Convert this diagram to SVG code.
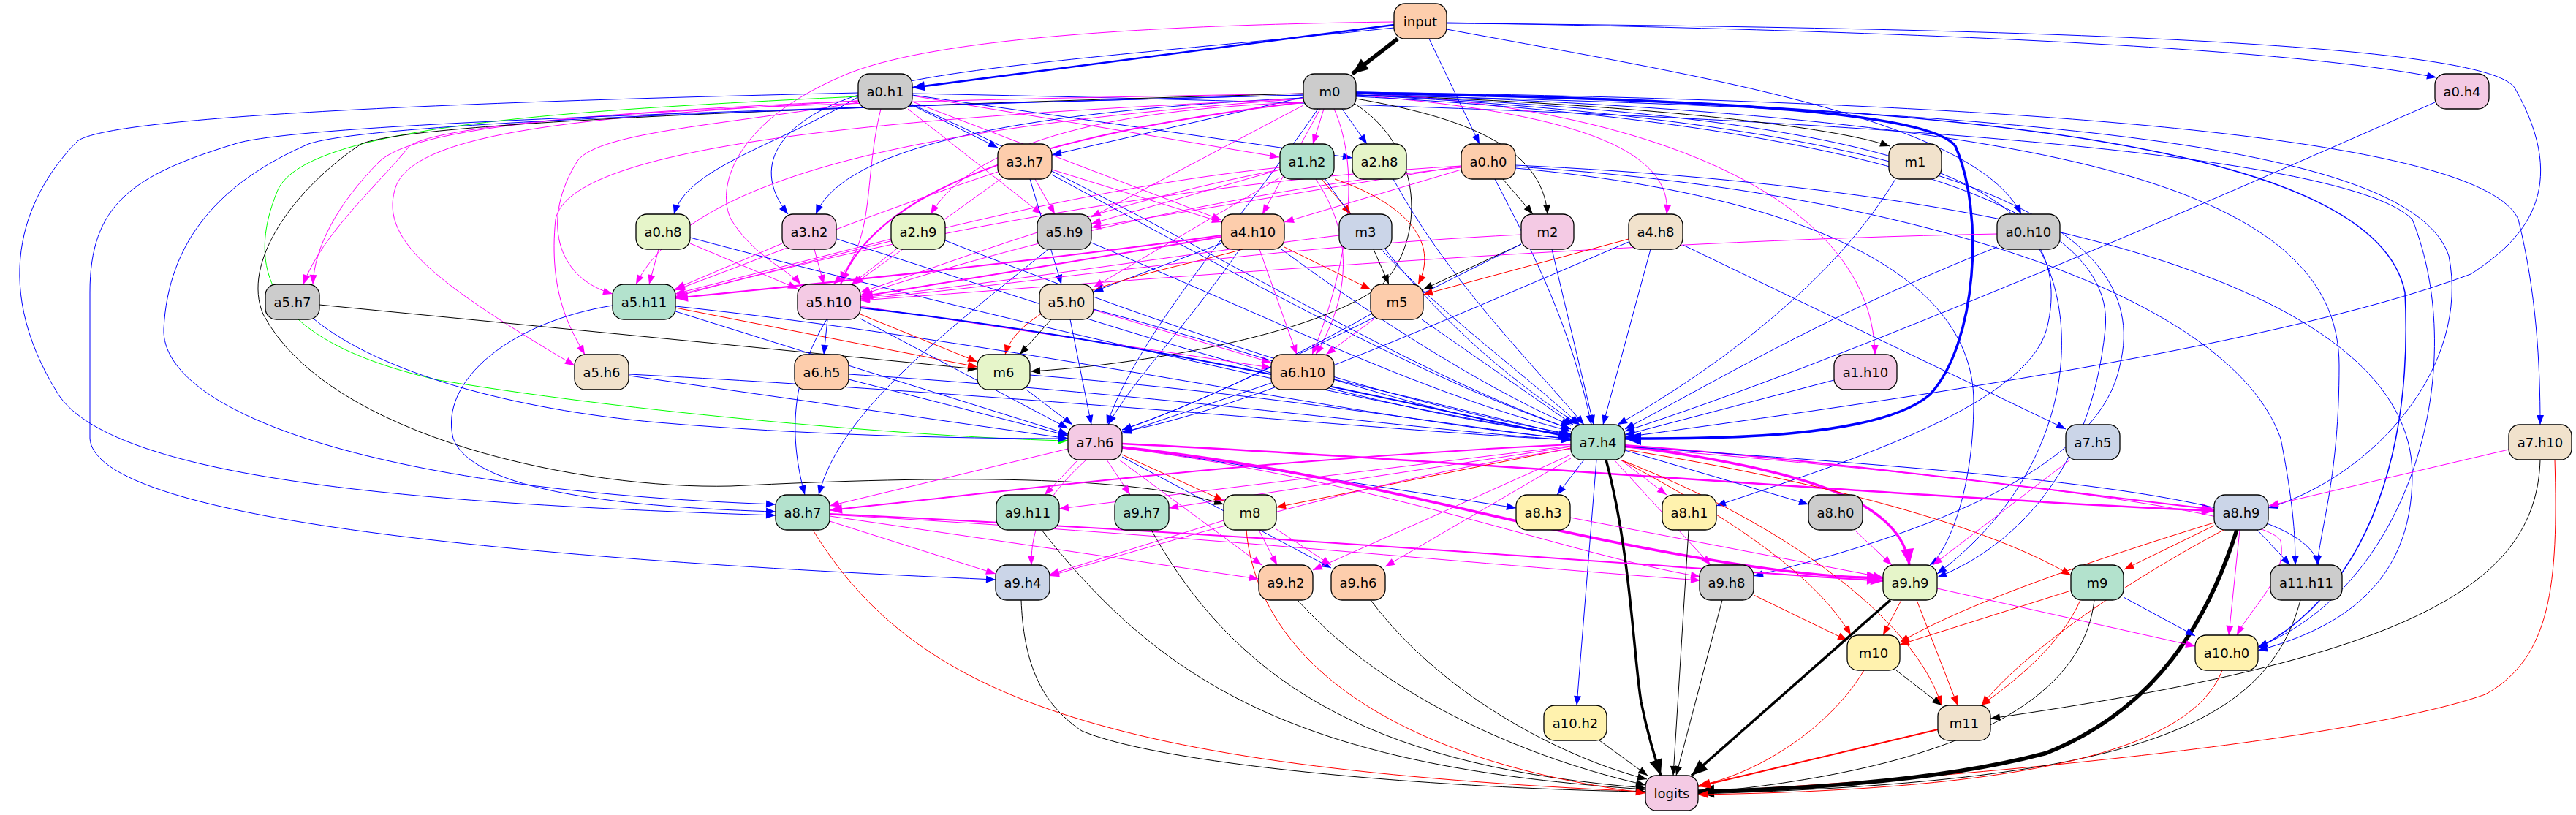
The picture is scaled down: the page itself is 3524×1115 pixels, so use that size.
<svg xmlns="http://www.w3.org/2000/svg" width="3524" height="1115" viewBox="0 0 3524 1115">
<style>
.e{fill:none;stroke-width:1}
.b{stroke:#0000ff;marker-end:url(#mb)}
.m{stroke:#ff00ff;marker-end:url(#mm)}
.r{stroke:#ff0000;marker-end:url(#mr)}
.k{stroke:#000000;marker-end:url(#mk)}
.g{stroke:#00ff00;marker-end:url(#mg)}
.w15{stroke-width:1.5}
.w2{stroke-width:2}
.w25{stroke-width:2.5}
.w3{stroke-width:3.5}
.w5{stroke-width:5.5}
.bM{marker-end:url(#mbM)}
.mM{marker-end:url(#mmM)}
.rM{marker-end:url(#mrM)}
.bL{marker-end:url(#mbL)}
.mL{marker-end:url(#mmL)}
.kL{marker-end:url(#mkL)}
.n rect{stroke:#000;stroke-width:1.3}
.n text{font-family:"DejaVu Sans","Liberation Sans",sans-serif;font-size:18px;text-anchor:middle;fill:#000}
.pe{fill:#fdcdac}.gy{fill:#cccccc}.pk{fill:#f4cae4}.mi{fill:#b3e2cd}.lg{fill:#e6f5c9}.be{fill:#f1e2cc}.lb{fill:#cbd5e8}.ye{fill:#fff2ae}
</style>
<defs>
<marker id="mb" markerUnits="userSpaceOnUse" markerWidth="14" markerHeight="11" refX="13" refY="5" orient="auto" overflow="visible"><path d="M0,0 L13,5 L0,10 z" fill="#0000ff"/></marker>
<marker id="mm" markerUnits="userSpaceOnUse" markerWidth="14" markerHeight="11" refX="13" refY="5" orient="auto" overflow="visible"><path d="M0,0 L13,5 L0,10 z" fill="#ff00ff"/></marker>
<marker id="mr" markerUnits="userSpaceOnUse" markerWidth="14" markerHeight="11" refX="13" refY="5" orient="auto" overflow="visible"><path d="M0,0 L13,5 L0,10 z" fill="#ff0000"/></marker>
<marker id="mk" markerUnits="userSpaceOnUse" markerWidth="14" markerHeight="11" refX="13" refY="5" orient="auto" overflow="visible"><path d="M0,0 L13,5 L0,10 z" fill="#000000"/></marker>
<marker id="mg" markerUnits="userSpaceOnUse" markerWidth="14" markerHeight="11" refX="13" refY="5" orient="auto" overflow="visible"><path d="M0,0 L13,5 L0,10 z" fill="#00ff00"/></marker>
<marker id="mbM" markerUnits="userSpaceOnUse" markerWidth="18" markerHeight="14" refX="17" refY="6.5" orient="auto" overflow="visible"><path d="M0,0 L17,6.5 L0,13 z" fill="#0000ff"/></marker>
<marker id="mmM" markerUnits="userSpaceOnUse" markerWidth="18" markerHeight="14" refX="17" refY="6.5" orient="auto" overflow="visible"><path d="M0,0 L17,6.5 L0,13 z" fill="#ff00ff"/></marker>
<marker id="mrM" markerUnits="userSpaceOnUse" markerWidth="18" markerHeight="14" refX="17" refY="6.5" orient="auto" overflow="visible"><path d="M0,0 L17,6.5 L0,13 z" fill="#ff0000"/></marker>
<marker id="mbL" markerUnits="userSpaceOnUse" markerWidth="23" markerHeight="19" refX="22" refY="9" orient="auto" overflow="visible"><path d="M0,0 L22,9 L0,18 z" fill="#0000ff"/></marker>
<marker id="mmL" markerUnits="userSpaceOnUse" markerWidth="23" markerHeight="19" refX="22" refY="9" orient="auto" overflow="visible"><path d="M0,0 L22,9 L0,18 z" fill="#ff00ff"/></marker>
<marker id="mkL" markerUnits="userSpaceOnUse" markerWidth="23" markerHeight="19" refX="22" refY="9" orient="auto" overflow="visible"><path d="M0,0 L22,9 L0,18 z" fill="#000000"/></marker>
</defs>
<rect x="0" y="0" width="3524" height="1115" fill="#ffffff"/>
<g id="edges">
<!-- input -->
<path class="e k w5 kL" d="M1912,53 L1850,101"/>
<path class="e b w25 bM" d="M1907,34 L1248,120"/>
<path class="e b" d="M1907,38 C1550,75 1230,95 1170,135 C1060,200 940,230 922,293"/>
<path class="e b" d="M1955,53 L2024,197"/>
<path class="e b" d="M1979,40 C2300,100 2700,160 2765,293"/>
<path class="e b" d="M1979,31 C2500,40 3100,60 3333,106"/>
<path class="e b" d="M1979,32 C2800,38 3400,60 3440,120 C3520,260 3450,330 3380,375 C3100,480 2500,560 2223,598"/>
<path class="e m" d="M1907,30 C1500,35 1250,60 1150,105 C1000,170 980,260 1000,300 C1030,350 1080,370 1095,389"/>
<!-- a0.h1 -->
<path class="e m" d="M1248,131 L1750,215"/>
<path class="e b" d="M1248,144 L1365,202"/>
<path class="e b" d="M1248,130 L1850,216"/>
<path class="e b" d="M1174,130 C1080,160 1020,220 1078,293"/>
<path class="e m" d="M1242,149 L1425,293"/>
<path class="e m" d="M1248,139 L1671,301"/>
<path class="e m" d="M1174,138 C900,150 600,170 560,200 C520,250 440,320 415,389"/>
<path class="e m" d="M1174,140 C1000,170 820,180 790,220 C740,300 760,380 838,402"/>
<path class="e m" d="M1205,149 C1180,250 1200,330 1140,389"/>
<path class="e m" d="M1174,138 C800,160 560,180 540,260 C520,330 600,390 786,500"/>
<path class="e g" d="M1174,132 C800,150 420,170 380,260 C330,380 380,470 600,520 C900,570 1300,600 1461,603"/>
<path class="e b" d="M1174,127 C600,140 150,160 106,193 C40,260 -20,380 80,540 C160,660 600,690 1061,705"/>
<path class="e b" d="M1248,143 C1600,300 1900,500 2149,587"/>
<path class="e b" d="M1248,128 C2400,150 3200,200 3300,300 C3380,500 3300,800 3089,885"/>
<!-- m0 -->
<path class="e m" d="M1811,149 L1796,197"/>
<path class="e b" d="M1836,149 L1870,197"/>
<path class="e k" d="M1855,130 C2200,140 2500,170 2585,200"/>
<path class="e k" d="M1855,135 C2000,160 2110,200 2117,293"/>
<path class="e b" d="M1783,133 L1439,212"/>
<path class="e b" d="M1783,134 C1450,150 1160,190 1116,293"/>
<path class="e m" d="M1783,140 C1500,150 1330,200 1273,293"/>
<path class="e m" d="M1783,144 L1493,297"/>
<path class="e m" d="M1806,149 L1727,293"/>
<path class="e m" d="M1855,130 C2100,150 2290,190 2280,293"/>
<path class="e m" d="M1855,128 C2200,140 2560,250 2565,485"/>
<path class="e m" d="M1783,128 C1100,140 600,150 520,220 C460,280 430,340 428,389"/>
<path class="e m" d="M1783,135 C1300,170 950,230 870,389"/>
<path class="e m w2 mM" d="M1783,140 C1450,180 1200,250 1150,389"/>
<path class="e m" d="M1825,149 C1870,250 1830,400 1795,485"/>
<path class="e k" d="M1850,140 C1950,200 1950,330 1890,390 C1800,460 1550,500 1410,508"/>
<path class="e k" d="M1783,128 C1000,150 560,170 494,197 C400,260 330,360 360,430 C450,600 800,670 1000,665 C1300,650 1550,650 1674,690"/>
<path class="e b w3 bL" d="M1855,127 C2300,135 2640,150 2675,200 C2715,290 2705,470 2640,540 C2570,600 2350,600 2223,600"/>
<path class="e b" d="M1803,149 C1700,300 1560,450 1514,581"/>
<path class="e b" d="M1783,130 C1000,150 500,170 422,197 C300,250 230,330 224,450 C220,560 500,670 1061,690"/>
<path class="e b" d="M1783,130 C1000,150 400,170 321,197 C180,240 123,280 123,400 L123,600 C130,700 600,760 1362,793"/>
<path class="e b" d="M1855,130 C2800,150 3300,200 3350,350 C3380,500 3250,650 3103,695"/>
<path class="e b" d="M1855,132 C2400,160 2900,250 2880,450 C2860,650 2750,750 2650,790"/>
<path class="e b w15" d="M1855,128 C2700,140 3250,200 3290,400 C3300,600 3250,800 3089,887"/>
<path class="e b" d="M1855,126 C2900,140 3400,200 3445,300 C3470,400 3475,500 3475,581"/>
<path class="e b" d="M1855,128 C2800,160 3200,250 3200,500 C3200,650 3175,720 3170,773"/>
<path class="e b" d="M1855,130 C2600,160 2850,250 2800,450 C2770,560 2500,640 2348,692"/>
<path class="e b" d="M1855,130 C2650,170 2950,300 2900,500 C2870,650 2600,740 2399,788"/>
<path class="e m" d="M1783,135 C1200,160 780,200 760,300 C750,400 780,450 800,485"/>
<!-- a0.h0 -->
<path class="e k" d="M2056,245 L2097,293"/>
<path class="e m" d="M1999,232 L1757,304"/>
<path class="e m" d="M1999,229 C1700,260 1400,330 1177,404"/>
<path class="e m" d="M1999,227 C1600,250 1200,330 924,406"/>
<path class="e m" d="M1999,227 L1493,311"/>
<path class="e b" d="M2045,245 C2100,350 2150,450 2177,581"/>
<path class="e b" d="M2073,230 C2400,260 2700,350 2700,550 C2700,680 2660,760 2640,773"/>
<path class="e b" d="M2073,228 C2600,260 3050,400 3120,600 C3140,700 3140,750 3140,773"/>
<path class="e b" d="M2073,226 C2800,260 3300,400 3300,650 C3300,800 3200,860 3089,890"/>
<!-- a0.h8 -->
<path class="e m" d="M901,341 L888,389"/>
<path class="e m" d="M944,333 L1091,395"/>
<path class="e b" d="M944,325 C1300,420 1800,540 2149,597"/>
<!-- a0.h10 -->
<path class="e m" d="M2732,320 C2200,330 1600,380 1177,411"/>
<path class="e b" d="M2732,338 C2500,430 2350,520 2223,587"/>
<path class="e b" d="M2790,341 C2850,450 2830,650 2650,785"/>
<!-- a0.h4 -->
<path class="e b" d="M3331,140 C2900,330 2500,500 2223,590"/>
<!-- a1.h2 -->
<path class="e r" d="M1808,245 L1848,293"/>
<path class="e r" d="M1826,245 C1900,270 1975,320 1940,389"/>
<path class="e m" d="M1751,232 L1493,306"/>
<path class="e m" d="M1751,232 C1500,280 1300,360 1177,400"/>
<path class="e m" d="M1751,229 C1450,260 1150,350 924,404"/>
<path class="e m" d="M1751,243 L1496,393"/>
<path class="e b" d="M1813,245 C1900,380 2050,480 2161,581"/>
<path class="e m" d="M1800,245 C1850,320 1850,400 1800,485"/>
<!-- a2.h8 -->
<path class="e b" d="M1906,245 C1980,380 2080,480 2167,581"/>
<!-- a2.h9 -->
<path class="e m" d="M1226,341 L1165,389"/>
<path class="e m" d="M1219,327 L924,402"/>
<path class="e b" d="M1293,329 C1600,450 1900,550 2149,594"/>
<!-- a3.h7 -->
<path class="e m" d="M1416,245 L1443,293"/>
<path class="e m" d="M1439,232 L1671,304"/>
<path class="e b" d="M1409,245 L1452,389"/>
<path class="e m" d="M1365,235 C1200,290 1050,350 924,397"/>
<path class="e m" d="M1369,245 L1168,389"/>
<path class="e b" d="M1439,239 C1700,380 1950,520 2149,587"/>
<!-- a3.h2 -->
<path class="e m" d="M1114,341 L1127,389"/>
<path class="e m" d="M1070,333 L924,395"/>
<path class="e b" d="M1145,327 C1500,440 1850,560 2149,595"/>
<!-- a5.h9 -->
<path class="e b" d="M1493,332 C1750,440 1950,540 2149,590"/>
<path class="e b" d="M1434,341 C1300,450 1150,560 1120,677"/>
<!-- a4.h10 -->
<path class="e b" d="M1671,333 L1496,399"/>
<path class="e r" d="M1757,338 L1875,396"/>
<path class="e r" d="M1700,341 C1600,370 1400,400 1375,485"/>
<path class="e m w2 mM" d="M1671,324 L1177,406"/>
<path class="e m w2 mM" d="M1671,322 C1400,360 1100,390 924,408"/>
<path class="e m" d="M1723,341 L1774,485"/>
<path class="e b" d="M1753,341 C1900,450 2050,540 2149,582"/>
<path class="e b" d="M1696,341 C1620,450 1550,520 1516,581"/>
<!-- m3 -->
<path class="e k" d="M1879,341 L1900,389"/>
<path class="e b" d="M1895,341 C1980,450 2080,530 2160,581"/>
<path class="e m" d="M1832,322 C1600,350 1350,390 1177,407"/>
<!-- m2 -->
<path class="e k" d="M2081,334 L1947,396"/>
<path class="e b" d="M2123,341 L2180,581"/>
<path class="e b" d="M2081,334 C1850,450 1650,550 1535,588"/>
<path class="e m" d="M2081,321 C1700,340 1400,390 1177,409"/>
<!-- a4.h8 -->
<path class="e r" d="M2228,327 L1947,403"/>
<path class="e b" d="M2258,341 L2193,581"/>
<path class="e b" d="M2228,331 C1950,450 1700,560 1535,591"/>
<path class="e b" d="M2302,335 L2826,587"/>
<!-- m1, a1.h10 -->
<path class="e b" d="M2593,245 C2500,400 2320,520 2213,581"/>
<path class="e b" d="M2509,520 L2223,595"/>
<!-- a5.h7 -->
<path class="e k" d="M437,417 L1337,505"/>
<path class="e b" d="M430,437 C520,510 700,560 900,578 C1100,595 1300,600 1461,600"/>
<!-- a5.h11 -->
<path class="e r" d="M924,421 L1337,502"/>
<path class="e b" d="M924,426 L1461,594"/>
<path class="e b" d="M924,419 C1400,470 1900,580 2149,600"/>
<path class="e b" d="M838,418 C700,440 600,520 620,600 C650,680 900,695 1061,700"/>
<!-- a5.h10 -->
<path class="e b" d="M1132,437 L1127,485"/>
<path class="e r" d="M1177,430 L1337,495"/>
<path class="e m" d="M1177,419 L1739,503"/>
<path class="e b" d="M1177,436 L1461,586"/>
<path class="e b w2 bM" d="M1177,421 C1600,470 1950,560 2149,598"/>
<path class="e b" d="M1131,437 C1080,520 1080,600 1101,677"/>
<!-- a5.h0 -->
<path class="e k" d="M1438,437 L1395,485"/>
<path class="e b" d="M1464,437 L1493,581"/>
<path class="e m" d="M1496,424 L1739,496"/>
<path class="e b" d="M1496,423 C1750,490 1950,570 2149,595"/>
<!-- m5 -->
<path class="e m" d="M1879,437 L1814,485"/>
<path class="e b" d="M1945,437 L2152,581"/>
<path class="e b" d="M1875,430 C1750,500 1620,560 1535,588"/>
<!-- a5.h6, a6.h5, m6, a6.h10 -->
<path class="e b" d="M861,514 L1461,600"/>
<path class="e b" d="M861,512 C1400,540 1900,590 2149,602"/>
<path class="e b" d="M1161,519 L1461,596"/>
<path class="e b" d="M1161,512 C1600,540 1950,590 2149,602"/>
<path class="e b" d="M1404,533 L1467,581"/>
<path class="e b" d="M1409,513 C1750,540 2000,585 2149,601"/>
<path class="e b" d="M1739,524 L1535,593"/>
<path class="e b" d="M1825,519 L2149,596"/>
<!-- a7.h6 -->
<path class="e m" d="M1461,614 L1135,692"/>
<path class="e m" d="M1475,629 L1429,677"/>
<path class="e m" d="M1514,629 L1546,677"/>
<path class="e r" d="M1535,622 L1674,685"/>
<path class="e b" d="M1535,611 L2074,695"/>
<path class="e m w25 mM" d="M1535,607 C2000,630 2600,680 3029,699"/>
<path class="e m w3 mL" d="M1535,612 C1800,640 2000,700 2200,740 C2400,780 2500,790 2576,791"/>
<path class="e m" d="M1486,629 C1430,680 1410,720 1411,773"/>
<path class="e m" d="M1531,629 L1726,773"/>
<path class="e b" d="M1535,625 L1821,777"/>
<path class="e m" d="M1535,613 C1900,660 2150,760 2326,789"/>
<!-- a7.h4 -->
<path class="e b" d="M2167,629 L2130,677"/>
<path class="e m" d="M2217,629 L2280,677"/>
<path class="e b" d="M2223,616 L2474,690"/>
<path class="e m w2 mM" d="M2223,609 C2500,630 2800,670 3029,697"/>
<path class="e m w3 mL" d="M2223,610 C2450,640 2600,680 2612,773"/>
<path class="e k w3 kL" d="M2197,629 C2230,750 2235,900 2245,960 C2255,1010 2265,1040 2272,1061"/>
<path class="e b" d="M2184,629 L2157,965"/>
<path class="e r" d="M2149,613 L1746,694"/>
<path class="e m w2 mM" d="M2149,608 C1700,630 1400,670 1135,698"/>
<path class="e m" d="M2149,610 L1449,696"/>
<path class="e m" d="M2149,611 L1599,695"/>
<path class="e m" d="M2149,614 C1900,650 1600,740 1436,788"/>
<path class="e m" d="M2149,622 L1796,780"/>
<path class="e m" d="M2149,627 L1895,775"/>
<path class="e m" d="M2208,629 L2340,773"/>
<path class="e r" d="M2217,629 C2350,700 2480,780 2532,869"/>
<path class="e r" d="M2217,629 C2450,720 2620,850 2656,965"/>
<path class="e r" d="M2223,615 C2500,660 2720,720 2833,787"/>
<path class="e m" d="M2223,612 C2700,650 3100,700 3120,740 C3130,790 3080,830 3060,869"/>
<path class="e b" d="M2223,611 C2800,650 3150,680 3172,773"/>
<!-- a7.h5, a7.h10 -->
<path class="e m" d="M2832,629 L2644,773"/>
<path class="e m" d="M3432,615 L3104,692"/>
<path class="e k" d="M3475,629 C3470,800 3300,900 2723,983"/>
<path class="e r" d="M3495,629 C3500,800 3490,900 3400,950 C3200,1020 2600,1070 2323,1083"/>
<!-- a8.h7 -->
<path class="e m" d="M1135,713 L1362,785"/>
<path class="e m w2 mM" d="M1135,703 C1700,730 2200,770 2576,795"/>
<path class="e m" d="M1135,704 C1600,730 2000,770 2326,794"/>
<path class="e r" d="M1112,725 C1250,950 1500,1050 2251,1083"/>
<path class="e m" d="M1135,706 L1722,792"/>
<!-- a8.h3, a8.h1, a8.h0 -->
<path class="e m" d="M2148,708 L2576,790"/>
<path class="e k" d="M2310,725 L2289,1061"/>
<path class="e m" d="M2537,725 L2588,773"/>
<!-- a8.h9 -->
<path class="e k w5 kL" d="M3060,725 C3020,850 2950,970 2800,1030 C2650,1070 2450,1080 2323,1083"/>
<path class="e r" d="M3029,719 L2906,779"/>
<path class="e r" d="M3029,715 C2850,770 2680,830 2599,879"/>
<path class="e r" d="M3042,725 C2900,800 2760,900 2711,965"/>
<path class="e m" d="M3064,725 L3049,869"/>
<path class="e b" d="M3088,725 L3133,773"/>
<!-- layer 9 to logits -->
<path class="e k" d="M1397,821 C1400,900 1420,960 1480,1000 C1600,1050 2000,1080 2251,1083"/>
<path class="e k" d="M1425,725 C1600,950 1800,1050 2251,1080"/>
<path class="e k" d="M1575,725 C1700,950 1900,1050 2251,1078"/>
<path class="e m" d="M1674,712 L1436,786"/>
<path class="e m" d="M1722,725 L1747,773"/>
<path class="e m" d="M1746,724 L1821,773"/>
<path class="e r" d="M1705,725 C1720,900 1900,1040 2251,1085"/>
<path class="e k" d="M1775,821 C1900,960 2100,1040 2251,1074"/>
<path class="e k" d="M1875,821 C1980,960 2150,1040 2253,1066"/>
<path class="e r" d="M2399,814 L2527,876"/>
<path class="e k" d="M2356,821 L2293,1061"/>
<path class="e k w3 kL" d="M2586,821 L2314,1061"/>
<path class="e r" d="M2601,821 L2576,869"/>
<path class="e r" d="M2622,821 L2678,965"/>
<path class="e m" d="M2650,805 L3003,884"/>
<path class="e b" d="M2905,817 L3003,870"/>
<path class="e r" d="M2833,808 L2599,882"/>
<path class="e r" d="M2846,821 C2820,880 2760,930 2710,965"/>
<path class="e k" d="M2865,821 C2850,950 2700,1050 2323,1085"/>
<path class="e k" d="M3147,821 C3100,1000 2900,1070 2323,1086"/>
<path class="e k" d="M2594,917 L2656,965"/>
<path class="e r" d="M2550,917 C2500,1000 2400,1060 2323,1075"/>
<path class="e r" d="M3040,917 C3000,1020 2800,1080 2323,1087"/>
<path class="e k" d="M2188,1013 L2254,1061"/>
<path class="e r w2 rM" d="M2651,998 L2323,1076"/>
</g>
<g id="nodes">
<g id="n-input" class="n"><rect class="pe" x="1907" y="5" width="72" height="48" rx="15"/><text x="1943" y="35.5">input</text></g>
<g id="n-m0" class="n"><rect class="gy" x="1783" y="101" width="72" height="48" rx="15"/><text x="1819" y="131.5">m0</text></g>
<g id="n-a0.h1" class="n"><rect class="gy" x="1174" y="101" width="74" height="48" rx="15"/><text x="1211" y="131.5">a0.h1</text></g>
<g id="n-a0.h4" class="n"><rect class="pk" x="3331" y="101" width="74" height="48" rx="15"/><text x="3368" y="131.5">a0.h4</text></g>
<g id="n-a3.h7" class="n"><rect class="pe" x="1365" y="197" width="74" height="48" rx="15"/><text x="1402" y="227.5">a3.h7</text></g>
<g id="n-a1.h2" class="n"><rect class="mi" x="1751" y="197" width="74" height="48" rx="15"/><text x="1788" y="227.5">a1.h2</text></g>
<g id="n-a2.h8" class="n"><rect class="lg" x="1850" y="197" width="74" height="48" rx="15"/><text x="1887" y="227.5">a2.h8</text></g>
<g id="n-a0.h0" class="n"><rect class="pe" x="1999" y="197" width="74" height="48" rx="15"/><text x="2036" y="227.5">a0.h0</text></g>
<g id="n-m1" class="n"><rect class="be" x="2584" y="197" width="72" height="48" rx="15"/><text x="2620" y="227.5">m1</text></g>
<g id="n-a0.h8" class="n"><rect class="lg" x="870" y="293" width="74" height="48" rx="15"/><text x="907" y="323.5">a0.h8</text></g>
<g id="n-a3.h2" class="n"><rect class="pk" x="1070" y="293" width="74" height="48" rx="15"/><text x="1107" y="323.5">a3.h2</text></g>
<g id="n-a2.h9" class="n"><rect class="lg" x="1219" y="293" width="74" height="48" rx="15"/><text x="1256" y="323.5">a2.h9</text></g>
<g id="n-a5.h9" class="n"><rect class="gy" x="1419" y="293" width="74" height="48" rx="15"/><text x="1456" y="323.5">a5.h9</text></g>
<g id="n-a4.h10" class="n"><rect class="pe" x="1671" y="293" width="86" height="48" rx="15"/><text x="1714" y="323.5">a4.h10</text></g>
<g id="n-m3" class="n"><rect class="lb" x="1832" y="293" width="72" height="48" rx="15"/><text x="1868" y="323.5">m3</text></g>
<g id="n-m2" class="n"><rect class="pk" x="2081" y="293" width="72" height="48" rx="15"/><text x="2117" y="323.5">m2</text></g>
<g id="n-a4.h8" class="n"><rect class="be" x="2228" y="293" width="74" height="48" rx="15"/><text x="2265" y="323.5">a4.h8</text></g>
<g id="n-a0.h10" class="n"><rect class="gy" x="2732" y="293" width="86" height="48" rx="15"/><text x="2775" y="323.5">a0.h10</text></g>
<g id="n-a5.h7" class="n"><rect class="gy" x="363" y="389" width="74" height="48" rx="15"/><text x="400" y="419.5">a5.h7</text></g>
<g id="n-a5.h11" class="n"><rect class="mi" x="838" y="389" width="86" height="48" rx="15"/><text x="881" y="419.5">a5.h11</text></g>
<g id="n-a5.h10" class="n"><rect class="pk" x="1091" y="389" width="86" height="48" rx="15"/><text x="1134" y="419.5">a5.h10</text></g>
<g id="n-a5.h0" class="n"><rect class="be" x="1422" y="389" width="74" height="48" rx="15"/><text x="1459" y="419.5">a5.h0</text></g>
<g id="n-m5" class="n"><rect class="pe" x="1875" y="389" width="72" height="48" rx="15"/><text x="1911" y="419.5">m5</text></g>
<g id="n-a5.h6" class="n"><rect class="be" x="786" y="485" width="74" height="48" rx="15"/><text x="823" y="515.5">a5.h6</text></g>
<g id="n-a6.h5" class="n"><rect class="pe" x="1087" y="485" width="74" height="48" rx="15"/><text x="1124" y="515.5">a6.h5</text></g>
<g id="n-m6" class="n"><rect class="lg" x="1337" y="485" width="72" height="48" rx="15"/><text x="1373" y="515.5">m6</text></g>
<g id="n-a6.h10" class="n"><rect class="pe" x="1739" y="485" width="86" height="48" rx="15"/><text x="1782" y="515.5">a6.h10</text></g>
<g id="n-a1.h10" class="n"><rect class="pk" x="2509" y="485" width="86" height="48" rx="15"/><text x="2552" y="515.5">a1.h10</text></g>
<g id="n-a7.h6" class="n"><rect class="pk" x="1461" y="581" width="74" height="48" rx="15"/><text x="1498" y="611.5">a7.h6</text></g>
<g id="n-a7.h4" class="n"><rect class="mi" x="2149" y="581" width="74" height="48" rx="15"/><text x="2186" y="611.5">a7.h4</text></g>
<g id="n-a7.h5" class="n"><rect class="lb" x="2826" y="581" width="74" height="48" rx="15"/><text x="2863" y="611.5">a7.h5</text></g>
<g id="n-a7.h10" class="n"><rect class="be" x="3432" y="581" width="86" height="48" rx="15"/><text x="3475" y="611.5">a7.h10</text></g>
<g id="n-a8.h7" class="n"><rect class="mi" x="1061" y="677" width="74" height="48" rx="15"/><text x="1098" y="707.5">a8.h7</text></g>
<g id="n-a9.h11" class="n"><rect class="mi" x="1363" y="677" width="86" height="48" rx="15"/><text x="1406" y="707.5">a9.h11</text></g>
<g id="n-a9.h7" class="n"><rect class="mi" x="1525" y="677" width="74" height="48" rx="15"/><text x="1562" y="707.5">a9.h7</text></g>
<g id="n-m8" class="n"><rect class="lg" x="1674" y="677" width="72" height="48" rx="15"/><text x="1710" y="707.5">m8</text></g>
<g id="n-a8.h3" class="n"><rect class="ye" x="2074" y="677" width="74" height="48" rx="15"/><text x="2111" y="707.5">a8.h3</text></g>
<g id="n-a8.h1" class="n"><rect class="ye" x="2274" y="677" width="74" height="48" rx="15"/><text x="2311" y="707.5">a8.h1</text></g>
<g id="n-a8.h0" class="n"><rect class="gy" x="2474" y="677" width="74" height="48" rx="15"/><text x="2511" y="707.5">a8.h0</text></g>
<g id="n-a8.h9" class="n"><rect class="lb" x="3029" y="677" width="74" height="48" rx="15"/><text x="3066" y="707.5">a8.h9</text></g>
<g id="n-a9.h4" class="n"><rect class="lb" x="1362" y="773" width="74" height="48" rx="15"/><text x="1399" y="803.5">a9.h4</text></g>
<g id="n-a9.h2" class="n"><rect class="pe" x="1722" y="773" width="74" height="48" rx="15"/><text x="1759" y="803.5">a9.h2</text></g>
<g id="n-a9.h6" class="n"><rect class="pe" x="1821" y="773" width="74" height="48" rx="15"/><text x="1858" y="803.5">a9.h6</text></g>
<g id="n-a9.h8" class="n"><rect class="gy" x="2325" y="773" width="74" height="48" rx="15"/><text x="2362" y="803.5">a9.h8</text></g>
<g id="n-a9.h9" class="n"><rect class="lg" x="2576" y="773" width="74" height="48" rx="15"/><text x="2613" y="803.5">a9.h9</text></g>
<g id="n-m9" class="n"><rect class="mi" x="2833" y="773" width="72" height="48" rx="15"/><text x="2869" y="803.5">m9</text></g>
<g id="n-a11.h11" class="n"><rect class="gy" x="3106" y="773" width="98" height="48" rx="15"/><text x="3155" y="803.5">a11.h11</text></g>
<g id="n-m10" class="n"><rect class="ye" x="2527" y="869" width="72" height="48" rx="15"/><text x="2563" y="899.5">m10</text></g>
<g id="n-a10.h0" class="n"><rect class="ye" x="3003" y="869" width="86" height="48" rx="15"/><text x="3046" y="899.5">a10.h0</text></g>
<g id="n-a10.h2" class="n"><rect class="ye" x="2112" y="965" width="86" height="48" rx="15"/><text x="2155" y="995.5">a10.h2</text></g>
<g id="n-m11" class="n"><rect class="be" x="2651" y="965" width="72" height="48" rx="15"/><text x="2687" y="995.5">m11</text></g>
<g id="n-logits" class="n"><rect class="pk" x="2251" y="1061" width="72" height="48" rx="15"/><text x="2287" y="1091.5">logits</text></g>
</g>
</svg>
